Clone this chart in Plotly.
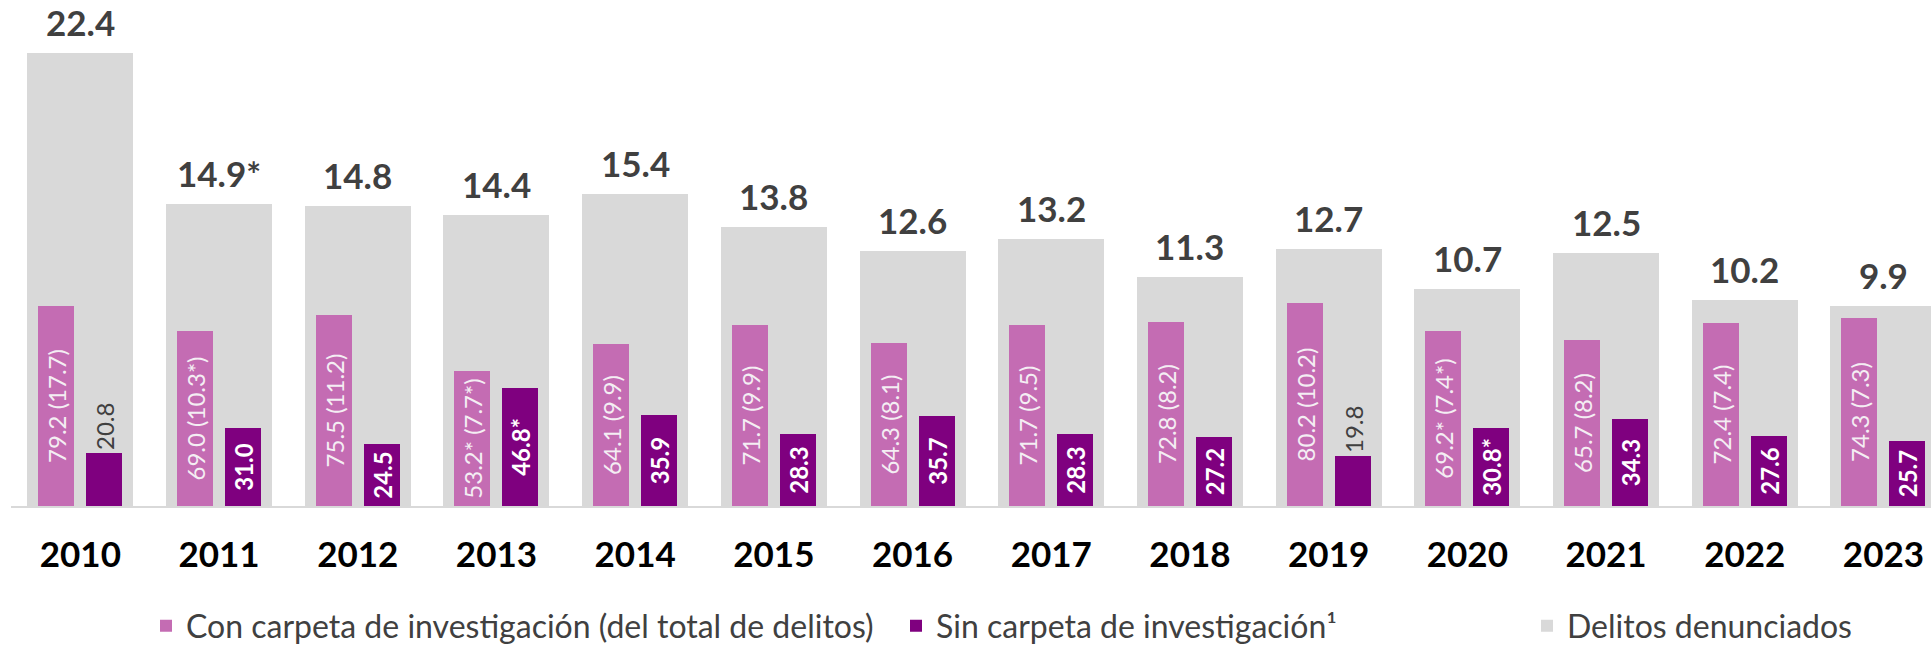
import plotly.graph_objects as go

years = ["2010", "2011", "2012", "2013", "2014", "2015", "2016",
         "2017", "2018", "2019", "2020", "2021", "2022", "2023"]

denunciados = [22.4, 14.9, 14.8, 14.4, 15.4, 13.8, 12.6, 13.2, 11.3, 12.7, 10.7, 12.5, 10.2, 9.9]
denunciados_lbl = ["22.4", "14.9*", "14.8", "14.4", "15.4", "13.8", "12.6", "13.2",
                   "11.3", "12.7", "10.7", "12.5", "10.2", "9.9"]

con_carpeta = [79.2, 69.0, 75.5, 53.2, 64.1, 71.7, 64.3, 71.7, 72.8, 80.2, 69.2, 65.7, 72.4, 74.3]
con_carpeta_lbl = ["79.2 (17.7)", "69.0 (10.3*)", "75.5 (11.2)", "53.2* (7.7*)", "64.1 (9.9)",
                   "71.7 (9.9)", "64.3 (8.1)", "71.7 (9.5)", "72.8 (8.2)", "80.2 (10.2)",
                   "69.2* (7.4*)", "65.7 (8.2)", "72.4 (7.4)", "74.3 (7.3)"]

sin_carpeta = [20.8, 31.0, 24.5, 46.8, 35.9, 28.3, 35.7, 28.3, 27.2, 19.8, 30.8, 34.3, 27.6, 25.7]
sin_carpeta_lbl = ["20.8", "31.0", "24.5", "46.8*", "35.9", "28.3", "35.7", "28.3",
                   "27.2", "19.8", "30.8*", "34.3", "27.6", "25.7"]

GREY = "#d9d9d9"
PINK = "#c46cb3"
PURPLE = "#7f007f"
TXT = "#404040"
FONT = "Lato"

W, H = 1931, 649
ML, MR, MT, MB = 11, 0, 0, 143
PW = W - ML - MR
CAT_PX = 138.7

fig = go.Figure()

fig.add_trace(go.Bar(
    x=years, y=denunciados, name="Delitos denunciados",
    marker=dict(color=GREY, line=dict(width=0)), width=0.764,
    xaxis="x", yaxis="y", legend="legend3",
))

fig.add_trace(go.Bar(
    x=years, y=con_carpeta, name="Con carpeta de investigación (del total de delitos)",
    marker=dict(color=PINK, line=dict(width=0)), width=0.26, offset=-0.303,
    text=con_carpeta_lbl, textposition="inside", textangle=-90,
    insidetextanchor="middle",
    textfont=dict(family=FONT, size=24, color="#f4eef3"),
    constraintext="none", cliponaxis=False,
    xaxis="x", yaxis="y2", legend="legend",
))

sin_pos = ["outside" if v < 22 else "inside" for v in sin_carpeta]
fig.add_trace(go.Bar(
    x=years, y=sin_carpeta, name="Sin carpeta de investigación¹",
    marker=dict(color=PURPLE, line=dict(width=0)), width=0.26, offset=0.043,
    text=sin_carpeta_lbl, textposition=sin_pos, textangle=-90,
    insidetextanchor="middle",
    insidetextfont=dict(family=FONT, size=24, color="white", weight="bold"),
    outsidetextfont=dict(family=FONT, size=24, color=TXT, weight="normal"),
    constraintext="none", cliponaxis=False,
    xaxis="x", yaxis="y2", legend="legend2",
))

# value labels above the grey bars (category axis -> serial index)
for i, (v, lbl) in enumerate(zip(denunciados, denunciados_lbl)):
    fig.add_annotation(
        x=i, y=v, xref="x", yref="y", text=lbl, showarrow=False,
        yanchor="bottom", yshift=8,
        font=dict(family=FONT, size=35, color=TXT, weight="bold"),
    )

def px_to_paper(px):
    return (px - ML) / PW

leg_common = dict(orientation="h", yanchor="middle", xanchor="left",
                  y=(506 - 626) / 506, bgcolor="rgba(0,0,0,0)",
                  font=dict(family=FONT, size=32, color=TXT))

fig.update_layout(
    width=W, height=H,
    margin=dict(l=ML, r=MR, t=MT, b=MB, autoexpand=False),
    paper_bgcolor="white", plot_bgcolor="white",
    barmode="overlay", bargap=0,
    showlegend=True,
    legend=dict(x=px_to_paper(146), **leg_common),
    legend2=dict(x=px_to_paper(896), **leg_common),
    legend3=dict(x=px_to_paper(1527), **leg_common),
    xaxis=dict(
        type="category", range=[-0.5, -0.5 + PW / CAT_PX],
        showgrid=False, zeroline=False, showline=True,
        linecolor="#d9d9d9", linewidth=2, ticks="",
        tickfont=dict(family=FONT, size=35, color="black", weight="bold"),
        ticklabelstandoff=17,
    ),
    yaxis=dict(range=[0, 25], visible=False, showgrid=False, zeroline=False),
    yaxis2=dict(range=[0, 200], visible=False, overlaying="y",
                showgrid=False, zeroline=False),
)

fig.write_html("out.html", config={"displayModeBar": False},
               post_script="document.body.style.margin='0';document.body.style.overflow='hidden';")
